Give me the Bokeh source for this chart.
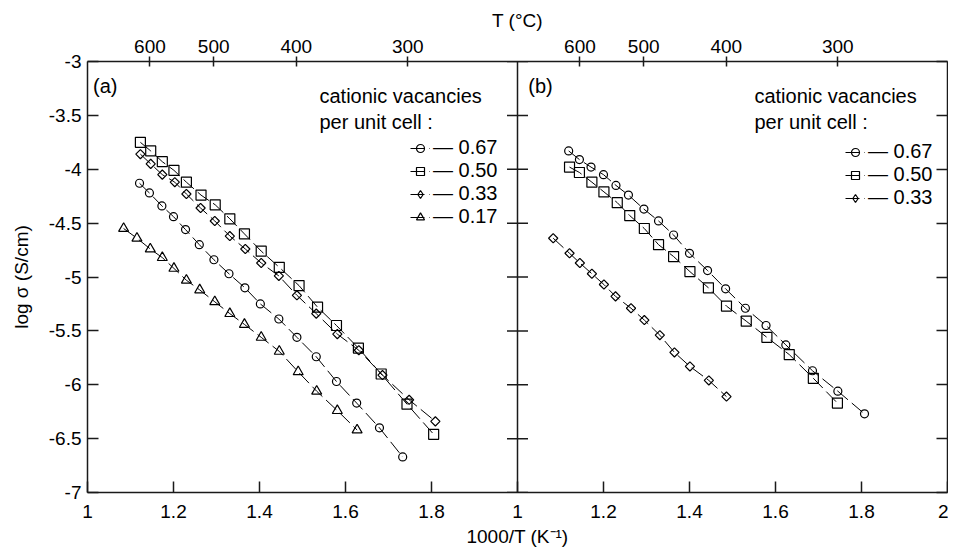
from bokeh.plotting import figure
from bokeh.models import (LinearAxis, FixedTicker, Span, Label, Legend, LegendItem,
                          ColumnDataSource, Range1d)
from bokeh.transform import dodge
from bokeh.embed import file_html
from bokeh.resources import INLINE
import math

# ---------------- data ----------------
# panel (a)
a_x_067 = [1.121, 1.144, 1.173, 1.200, 1.228, 1.260, 1.294, 1.329, 1.366, 1.402, 1.445, 1.487, 1.532, 1.579, 1.626, 1.679, 1.733]
a_y_067 = [-4.13, -4.22, -4.34, -4.44, -4.56, -4.70, -4.84, -4.97, -5.10, -5.25, -5.39, -5.56, -5.74, -5.97, -6.17, -6.40, -6.67]
a_x_050 = [1.123, 1.147, 1.174, 1.201, 1.230, 1.264, 1.297, 1.331, 1.365, 1.404, 1.446, 1.492, 1.535, 1.579, 1.630, 1.683, 1.743, 1.805]
a_y_050 = [-3.75, -3.83, -3.93, -4.01, -4.12, -4.24, -4.33, -4.46, -4.60, -4.76, -4.91, -5.08, -5.28, -5.45, -5.66, -5.90, -6.18, -6.46]
a_x_033 = [1.123, 1.147, 1.174, 1.203, 1.230, 1.263, 1.296, 1.331, 1.367, 1.404, 1.445, 1.487, 1.532, 1.581, 1.631, 1.686, 1.748, 1.809]
a_y_033 = [-3.86, -3.95, -4.05, -4.12, -4.23, -4.36, -4.48, -4.62, -4.74, -4.87, -4.99, -5.17, -5.34, -5.53, -5.68, -5.91, -6.14, -6.34]
a_x_017 = [1.084, 1.115, 1.146, 1.174, 1.201, 1.230, 1.261, 1.296, 1.331, 1.365, 1.404, 1.446, 1.490, 1.533, 1.581, 1.627]
a_y_017 = [-4.55, -4.64, -4.74, -4.82, -4.92, -5.03, -5.12, -5.23, -5.34, -5.44, -5.56, -5.69, -5.88, -6.06, -6.24, -6.42]
# panel (b)
b_x_067 = [1.119, 1.144, 1.171, 1.200, 1.229, 1.258, 1.294, 1.328, 1.363, 1.400, 1.442, 1.484, 1.530, 1.578, 1.624, 1.686, 1.745, 1.807]
b_y_067 = [-3.83, -3.91, -3.98, -4.05, -4.15, -4.24, -4.37, -4.48, -4.61, -4.78, -4.94, -5.11, -5.29, -5.45, -5.63, -5.87, -6.06, -6.27]
b_x_050 = [1.121, 1.144, 1.173, 1.201, 1.232, 1.261, 1.295, 1.328, 1.363, 1.401, 1.444, 1.486, 1.532, 1.580, 1.632, 1.688, 1.744]
b_y_050 = [-3.98, -4.03, -4.12, -4.21, -4.31, -4.43, -4.55, -4.70, -4.81, -4.95, -5.10, -5.27, -5.41, -5.56, -5.72, -5.94, -6.17]
b_x_033 = [1.083, 1.121, 1.145, 1.173, 1.201, 1.228, 1.264, 1.295, 1.331, 1.365, 1.401, 1.445, 1.486]
b_y_033 = [-4.64, -4.78, -4.87, -4.97, -5.07, -5.18, -5.29, -5.40, -5.54, -5.70, -5.83, -5.96, -6.11]

x_ticks_panel = [1.0, 1.2, 1.4, 1.6, 1.8]
x_tick_labels = ["1", "1.2", "1.4", "1.6", "1.8"]
y_ticks = [-7.0, -6.5, -6.0, -5.5, -5.0, -4.5, -4.0, -3.5, -3.0]
y_tick_labels = ["-7", "-6.5", "-6", "-5.5", "-5", "-4.5", "-4", "-3.5", "-3"]
temps_c = [600, 500, 400, 300]
legend_a = ["0.67", "0.50", "0.33", "0.17"]
legend_b = ["0.67", "0.50", "0.33"]

FONT = "Liberation Sans"
INK = "#1a1a1a"

p = figure(width=948, height=549, output_backend="svg", toolbar_location=None,
           x_range=Range1d(1, 3), y_range=Range1d(-7, -3),
           min_border_left=87, min_border_right=1, min_border_top=61, min_border_bottom=55,
           x_axis_location=None, y_axis_location=None)
p.grid.visible = False
p.outline_line_color = None
p.background_fill_color = "white"

def style_axis(ax, tin, tout, labels=True):
    ax.axis_line_width = 1.5
    ax.axis_line_color = INK
    ax.major_tick_line_width = 1.5
    ax.major_tick_line_color = INK
    ax.major_tick_in = tin
    ax.major_tick_out = tout
    ax.minor_tick_line_color = None
    ax.major_label_text_font = FONT
    ax.major_label_text_font_size = "19px" if labels else "0px"
    ax.major_label_text_color = "black"
    ax.axis_label_text_font = FONT
    ax.axis_label_text_font_size = "19px"
    ax.axis_label_text_font_style = "normal"
    ax.axis_label_text_color = "black"

# bottom axis
bt = []
bl = {}
for off in (0.0, 1.0):
    for t, l in zip(x_ticks_panel, x_tick_labels):
        v = round(t + off, 1)
        bt.append(v)
        bl[v] = l
bt.append(3.0)
bl[3.0] = "2"
bottom = LinearAxis(ticker=FixedTicker(ticks=bt), major_label_overrides=bl,
                    axis_label="1000/T (K\u207b\u00b9)")
style_axis(bottom, 11, 0)
bottom.major_label_standoff = 12
bottom.axis_label_standoff = 5
p.add_layout(bottom, "below")

# top axis (temperature in C)
tt = []
tl = {}
for off in (0.0, 1.0):
    for T in temps_c:
        v = 1000.0 / (T + 273.15) + off
        tt.append(v)
        tl[v] = str(T)
top = LinearAxis(ticker=FixedTicker(ticks=tt), major_label_overrides=tl, axis_label="T (\u00b0C)")
style_axis(top, 5, 5)
top.major_label_standoff = 4
top.axis_label_standoff = 6
p.add_layout(top, "above")

# left axis
yl = {v: s for v, s in zip(y_ticks, y_tick_labels)}
left = LinearAxis(ticker=FixedTicker(ticks=y_ticks), major_label_overrides=yl,
                  axis_label="log \u03c3 (S/cm)")
style_axis(left, 11, 0)
left.major_label_standoff = 6
left.axis_label_standoff = 14
p.add_layout(left, "left")

# right axis
right = LinearAxis(ticker=FixedTicker(ticks=y_ticks), major_label_overrides={v: "" for v in y_ticks})
style_axis(right, 11, 0, labels=False)
right.major_label_standoff = 0
p.add_layout(right, "right")

# panel divider with crossing ticks
p.add_layout(Span(location=2.0, dimension="height", line_color=INK, line_width=1.5))
p.scatter(x=[2.0] * len(y_ticks), y=y_ticks, marker="dash", size=21, line_color=INK, line_width=1.5)

DASH = "14 5"

def series(xs, ys, marker, size, angle=0.0, shift=0.0):
    src = ColumnDataSource(dict(x=xs, y=ys))
    xx = dodge("x", shift) if shift else "x"
    lr = p.line(x=xx, y="y", source=src, line_color="black", line_width=1, line_dash=DASH)
    mr = p.scatter(x=xx, y="y", source=src, marker=marker, size=size, angle=angle,
                   fill_color=None, line_color="black", line_width=1.2)
    rs = [lr, mr]
    if angle:
        # hidden twin: only used to show a diamond symbol in the legend
        rs = [lr, p.scatter(x=xx, y="y", source=src, marker="diamond", size=size,
                            fill_color=None, line_color="black", line_width=1.2, visible=False)]
    return rs

ra = [series(a_x_067, a_y_067, "circle", 8),
      series(a_x_050, a_y_050, "square", 10),
      series(a_x_033, a_y_033, "square", 6.5, angle=math.pi / 4),
      series(a_x_017, a_y_017, "triangle", 10)]
rb = [series(b_x_067, b_y_067, "circle", 8, shift=1.0),
      series(b_x_050, b_y_050, "square", 10, shift=1.0),
      series(b_x_033, b_y_033, "square", 6.5, angle=math.pi / 4, shift=1.0)]

def make_legend(rs, labels, loc, spacing):
    items = [LegendItem(label="\u2014 " + lab, renderers=r) for r, lab in zip(rs, labels)]
    lg = Legend(items=items, location=loc, padding=0, margin=0, spacing=spacing,
                glyph_width=20, glyph_height=20, label_height=20, label_standoff=3,
                border_line_color=None, background_fill_alpha=0,
                label_text_font=FONT, label_text_font_size="20px", label_text_color="black")
    p.add_layout(lg, "center")

make_legend(ra, legend_a, (323, 264), -2)
make_legend(rb, legend_b, (758, 283), -1)

def txt(x, y, s, size="20px"):
    p.add_layout(Label(x=x, y=y, text=s, text_font=FONT, text_font_size=size,
                       text_color="black", text_baseline="alphabetic"))

txt(1.013, -3.225, "(a)")
txt(2.025, -3.225, "(b)")
txt(1.5395, -3.318, "cationic vacancies")
txt(1.5395, -3.557, "per unit cell :")
txt(2.551, -3.318, "cationic vacancies")
txt(2.551, -3.557, "per unit cell :")

open("out.html", "w").write(file_html(p, INLINE))
